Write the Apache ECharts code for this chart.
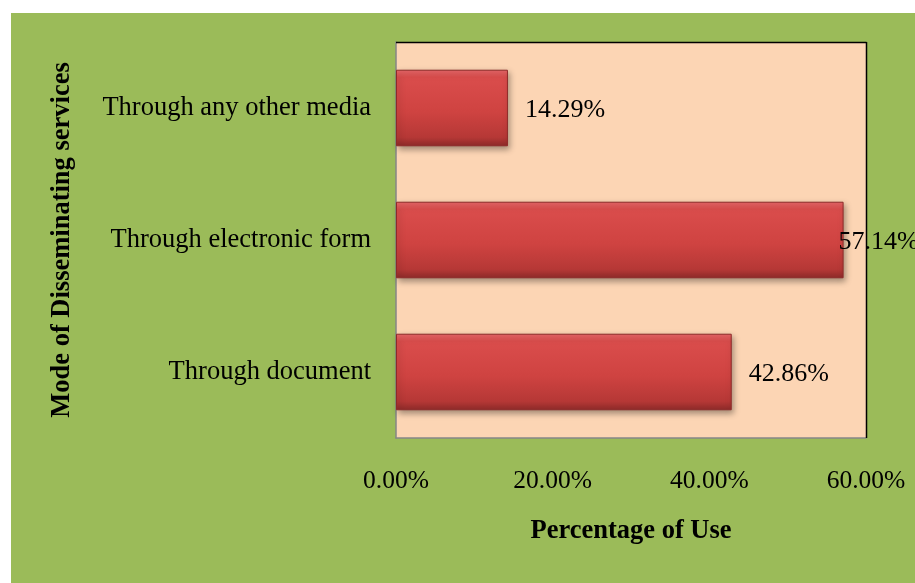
<!DOCTYPE html>
<html>
<head>
<meta charset="utf-8">
<script src="https://cdn.jsdelivr.net/npm/echarts@6/dist/echarts.min.js"></script>
<style>
html,body{margin:0;padding:0;background:#ffffff;}
#chart{position:absolute;left:11px;top:13px;width:904px;height:570px;}
</style>
</head>
<body>
<div id="chart"></div>
<script>
var categories = ['Through document', 'Through electronic form', 'Through any other media'];
var values = [42.86, 57.14, 14.29];
var tickLabels = ['0.00%', '20.00%', '40.00%', '60.00%'];
var xAxisTitle = 'Percentage of Use';
var yAxisTitle = 'Mode of Disseminating services';

var FONT = '"Liberation Serif", "Times New Roman", serif';
var chart = echarts.init(document.getElementById('chart'), null, {renderer: 'canvas'});

var barColor = new echarts.graphic.LinearGradient(0, 0, 0, 1, [
  {offset: 0, color: '#e86769'},
  {offset: 0.1, color: '#da4d4c'},
  {offset: 0.55, color: '#cf4341'},
  {offset: 0.88, color: '#b63836'},
  {offset: 1, color: '#8e2a29'}
]);

var data = values.map(function (v) {
  var item = {value: v};
  if (v > 50) {
    item.label = {offset: [-22, 2]};
  }
  return item;
});

chart.setOption({
  backgroundColor: '#9bbb59',
  animation: false,
  grid: {left: 385, right: 49, top: 29, bottom: 145, containLabel: false,
         show: true, backgroundColor: '#fcd5b4', borderWidth: 0},
  xAxis: {
    type: 'value', min: 0, max: 60, interval: 20,
    name: xAxisTitle, nameLocation: 'middle', nameGap: 80,
    nameTextStyle: {fontFamily: FONT, fontSize: 26.5, fontWeight: 'bold', color: '#000'},
    axisLine: {show: true, lineStyle: {color: '#868686', width: 1.5}},
    axisTick: {show: false},
    splitLine: {show: false},
    axisLabel: {
      fontFamily: FONT, fontSize: 25.5, color: '#000', margin: 30,
      formatter: function (v) { return tickLabels[Math.round(v / 20)]; }
    }
  },
  yAxis: {
    type: 'category', data: categories,
    name: yAxisTitle, nameLocation: 'middle', nameGap: 320, nameRotate: 90,
    nameTextStyle: {fontFamily: FONT, fontSize: 26.5, fontWeight: 'bold', color: '#000'},
    axisLine: {show: true, lineStyle: {color: '#868686', width: 1.5}},
    axisTick: {show: false},
    axisLabel: {fontFamily: FONT, fontSize: 26.5, color: '#000', margin: 25, padding: [6, 0, 0, 0]}
  },
  graphic: [
    {type: 'line', shape: {x1: 385, y1: 29.5, x2: 855.5, y2: 29.5}, style: {stroke: '#000', lineWidth: 1.5}, z: 10},
    {type: 'line', shape: {x1: 855.5, y1: 29, x2: 855.5, y2: 425}, style: {stroke: '#000', lineWidth: 1.5}, z: 10}
  ],
  series: [{
    type: 'bar', data: data, barWidth: '58%',
    itemStyle: {
      color: barColor, borderColor: '#8e2a29', borderWidth: 1,
      shadowColor: 'rgba(0,0,0,0.35)', shadowBlur: 6, shadowOffsetX: 2, shadowOffsetY: 3
    },
    label: {
      show: true, position: 'right', distance: 17, offset: [0, 2],
      fontFamily: FONT, fontSize: 26, color: '#000',
      formatter: function (p) { return p.value.toFixed(2) + '%'; }
    }
  }]
});
</script>
</body>
</html>
